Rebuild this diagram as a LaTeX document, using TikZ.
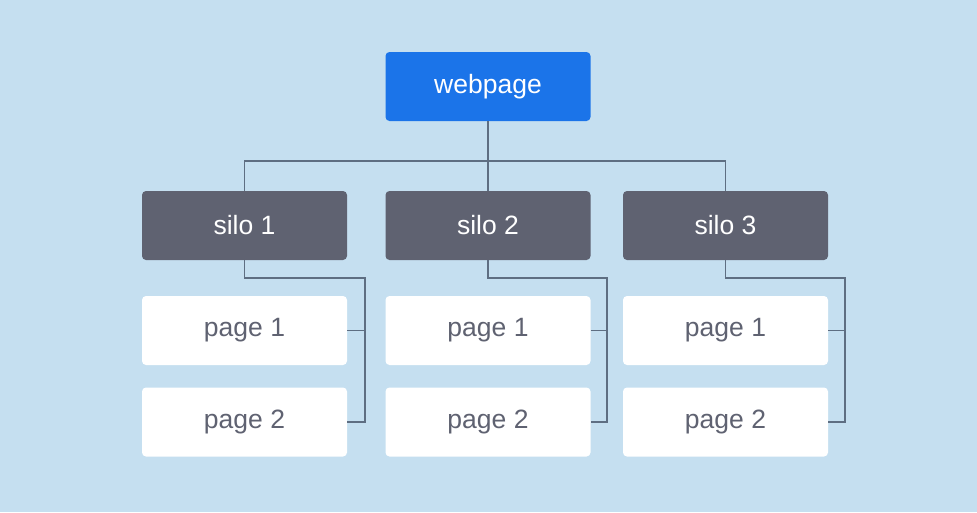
\documentclass[tikz,border=0pt]{standalone}
\usepackage{fontspec}
\setmainfont{Liberation Sans}
\usepackage{tikz}
\definecolor{bgblue}{HTML}{C5DFF0}
\definecolor{webblue}{HTML}{1B74E9}
\definecolor{silogray}{HTML}{5F6271}
\definecolor{textgray}{HTML}{5F6271}
\definecolor{linegray}{HTML}{5E6E82}

\begin{document}
\begin{tikzpicture}[x=1pt, y=-1pt,
  box/.style={minimum width=205pt, minimum height=69pt, rounded corners=4pt, inner sep=0pt, font=\fontsize{26.5}{30}\selectfont},
  webbox/.style={box, fill=webblue, text=white},
  silobox/.style={box, fill=silogray, text=white},
  pagebox/.style={box, fill=white, text=textgray},
  wire/.style={linegray, line width=1.1pt}]

  \fill[bgblue] (0,0) rectangle (977,512);
  \useasboundingbox (0,0) rectangle (977,512);

  % top
  \node[webbox] (web) at (488,86.5) {webpage};

  % silos
  \node[silobox] (s1) at (244.5,225.5) {silo 1};
  \node[silobox] (s2) at (488,225.5) {silo 2};
  \node[silobox] (s3) at (725.5,225.5) {silo 3};

  % pages
  \node[pagebox] (p11) at (244.5,330.5) {page 1};
  \node[pagebox] (p12) at (244.5,422) {page 2};
  \node[pagebox] (p21) at (488,330.5) {page 1};
  \node[pagebox] (p22) at (488,422) {page 2};
  \node[pagebox] (p31) at (725.5,330.5) {page 1};
  \node[pagebox] (p32) at (725.5,422) {page 2};

  \coordinate (bus) at (488,161);
  \coordinate (k1) at (365,278);
  \coordinate (k2) at (607,278);
  \coordinate (k3) at (845,278);

  \draw[wire] (web.south) -- (s2.north);
  \draw[wire] (s1.north) |- (bus) -| (s3.north);

  \draw[wire] (s1.south) |- (k1) |- (p12.east);
  \draw[wire] (p11.east) -- (p11.east -| k1);
  \draw[wire] (s2.south) |- (k2) |- (p22.east);
  \draw[wire] (p21.east) -- (p21.east -| k2);
  \draw[wire] (s3.south) |- (k3) |- (p32.east);
  \draw[wire] (p31.east) -- (p31.east -| k3);

\end{tikzpicture}
\end{document}
